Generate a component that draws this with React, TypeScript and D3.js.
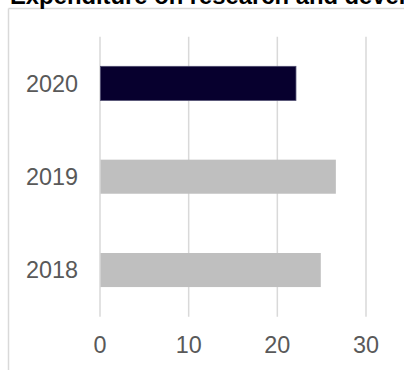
import React from "react";
import * as d3 from "d3";

const categories = ["2020", "2019", "2018"];
const values = [22.1, 26.6, 24.9];
const barColors = ["#07002e", "#bfbfbf", "#bfbfbf"];
const barStrokes = ["#4d4a6e", "none", "none"];
const xTicks = [0, 10, 20, 30];
const title = "Expenditure on research and development";

export default function App() {
  const W = 404;
  const H = 370;
  const x = d3.scaleLinear().domain([0, 30]).range([100, 366]);
  const y = d3
    .scaleBand<string>()
    .domain(categories)
    .range([36.7, 316.7])
    .paddingInner(0.635)
    .paddingOuter(0.3175);
  const font = "'Liberation Sans', Arial, sans-serif";
  return (
    <svg
      width={W}
      height={H}
      style={{ position: "absolute", left: 0, top: 0 }}
      fontFamily={font}
    >
      <rect x={0} y={0} width={W} height={H} fill="#fff" />
      {/* frame */}
      <line x1={8.5} y1={8.5} x2={W} y2={8.5} stroke="#d9d9d9" strokeWidth={1.5} />
      <line x1={8.5} y1={8.5} x2={8.5} y2={H} stroke="#d9d9d9" strokeWidth={1.5} />
      {/* title */}
      <text x={10} y={4} fontSize={23.8} fontWeight="bold" fill="#000">
        {title}
      </text>
      {/* gridlines */}
      {xTicks.map((t) => (
        <line
          key={t}
          x1={x(t)}
          x2={x(t)}
          y1={36.7}
          y2={316.7}
          stroke="#d9d9d9"
          strokeWidth={1.5}
        />
      ))}
      {/* bars */}
      {categories.map((c, i) => (
        <rect
          key={c}
          x={x(0) + 0.5}
          y={y(c)}
          width={x(values[i]) - x(0) - 0.5}
          height={y.bandwidth()}
          fill={barColors[i]}
          stroke={barStrokes[i]}
          strokeWidth={barStrokes[i] === "none" ? 0 : 0.8}
        />
      ))}
      {/* y labels */}
      {categories.map((c) => (
        <text
          key={c}
          x={78}
          y={(y(c) as number) + y.bandwidth() / 2}
          dy="0.35em"
          textAnchor="end"
          fontSize={23.4}
          fill="#595959"
        >
          {c}
        </text>
      ))}
      {/* x labels */}
      {xTicks.map((t) => (
        <text
          key={t}
          x={x(t)}
          y={353}
          textAnchor="middle"
          fontSize={23.4}
          fill="#595959"
        >
          {t}
        </text>
      ))}
    </svg>
  );
}
